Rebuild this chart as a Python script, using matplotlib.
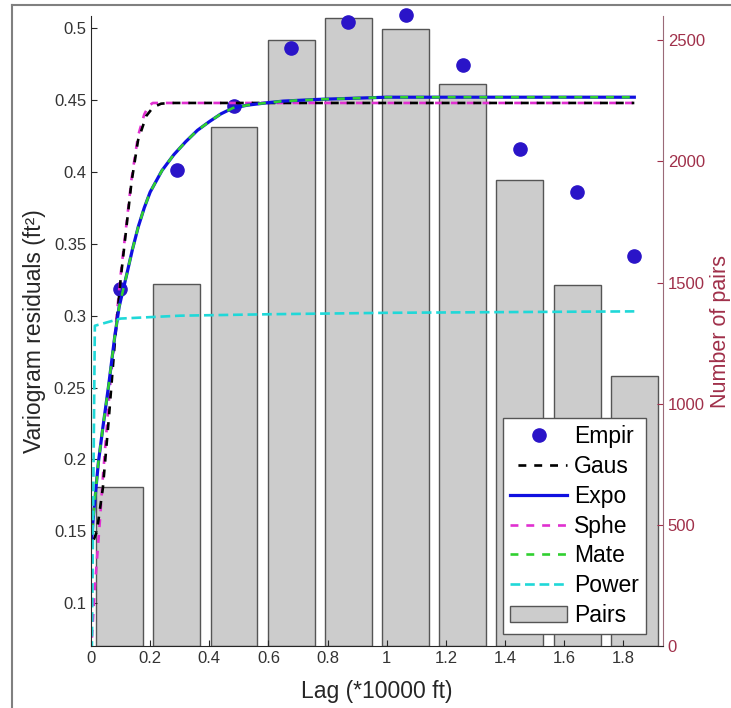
import matplotlib
matplotlib.use("Agg")
import matplotlib.pyplot as plt
from matplotlib.lines import Line2D
from matplotlib.ticker import FormatStrFormatter

plt.rcParams['font.family'] = ['Liberation Sans', 'DejaVu Sans']

# empirical variogram and pair counts per lag bin
lags = [0.0967, 0.290, 0.4835, 0.677, 0.870, 1.064, 1.257, 1.450, 1.644, 1.837]
empir = [0.3188, 0.4016, 0.4456, 0.4864, 0.5042, 0.5089, 0.4741, 0.4163, 0.3862, 0.3415]
pairs = [656, 1494, 2141, 2502, 2590, 2548, 2318, 1924, 1489, 1113]

# fitted models
gaus_x = [0, 0.02, 0.04, 0.06, 0.08, 0.10, 0.12, 0.137, 0.159, 0.187, 0.21, 0.237, 0.27, 1.837]
gaus_y = [0.139, 0.15, 0.18, 0.228, 0.28, 0.325, 0.362, 0.393, 0.422, 0.439, 0.445, 0.4475, 0.448, 0.448]

expo_x = [0, 0.01, 0.025, 0.04, 0.06, 0.08, 0.095, 0.12, 0.14, 0.16, 0.18, 0.2, 0.24, 0.28,
          0.32, 0.36, 0.40, 0.44, 0.48, 0.53, 0.59, 0.65, 0.77, 1.0, 1.837]
expo_y = [0.139, 0.165, 0.198, 0.222, 0.252, 0.285, 0.306, 0.328, 0.346, 0.362, 0.375, 0.386, 0.401, 0.412,
          0.421, 0.429, 0.435, 0.4405, 0.4445, 0.4465, 0.448, 0.4493, 0.4505, 0.452, 0.452]

sphe_x = [0, 0.013, 0.03, 0.041, 0.064, 0.08, 0.10, 0.12, 0.137, 0.159, 0.18, 0.195, 0.209, 0.22, 1.837]
sphe_y = [0.065, 0.111, 0.157, 0.19, 0.25, 0.285, 0.328, 0.364, 0.395, 0.425, 0.440, 0.446, 0.448, 0.448, 0.448]

mate_x = [0, 0.01, 0.025, 0.04, 0.06, 0.08, 0.095, 0.12, 0.14, 0.16, 0.18, 0.2, 0.24, 0.28,
          0.32, 0.36, 0.40, 0.44, 0.48, 0.53, 0.59, 0.65, 0.77, 1.0, 1.837]
mate_y = [0.139, 0.165, 0.198, 0.222, 0.252, 0.285, 0.306, 0.328, 0.346, 0.362, 0.375, 0.386, 0.401, 0.412,
          0.421, 0.429, 0.435, 0.4405, 0.4445, 0.4465, 0.448, 0.4493, 0.4505, 0.452, 0.452]

power_x = [0, 0.013, 0.1, 0.3, 0.6, 1.0, 1.4, 1.837]
power_y = [0.0, 0.293, 0.298, 0.300, 0.301, 0.302, 0.3025, 0.303]

xticks = [0, 0.2, 0.4, 0.6, 0.8, 1, 1.2, 1.4, 1.6, 1.8]
yticks = [0.1, 0.15, 0.2, 0.25, 0.3, 0.35, 0.4, 0.45, 0.5]
pair_ticks = [0, 500, 1000, 1500, 2000, 2500]

dark = '#262626'
red = '#a0304a'

fig = plt.figure(figsize=(7.31, 7.08), dpi=100)
ax = fig.add_axes([91/731, 1 - 646/708, 572/731, 630/708])
ax2 = ax.twinx()
ax.set_zorder(ax2.get_zorder() + 1)
ax.patch.set_visible(False)

# pairs as bars on the right axis (behind the curves)
bars = ax2.bar(lags, pairs, width=0.158, color='#cccccc', edgecolor='#555555',
               linewidth=1.0, label='Pairs')

pts, = ax.plot(lags, empir, 'o', color='#2a14c8', markersize=9.5, label='Empir', clip_on=False)
lw = 1.9
sp, = ax.plot(sphe_x, sphe_y, color='#e030d0', lw=lw, linestyle=(0, (3, 3)), label='Sphe')
ga, = ax.plot(gaus_x, gaus_y, color='black', lw=lw, linestyle=(3, (3, 3)), label='Gaus')
ex, = ax.plot(expo_x, expo_y, color='#1010e0', lw=2.3, label='Expo')
ma, = ax.plot(mate_x, mate_y, color='#30d030', lw=lw, linestyle=(0, (3, 3)), label='Mate')
pw, = ax.plot(power_x, power_y, color='#20d8d8', lw=lw, linestyle=(0, (3.7, 1.8)), label='Power')

ax.set_xlim(0, 1.934)
ax.set_ylim(0.0702, 0.5085)
ax2.set_ylim(0, 2600)

ax.set_xticks(xticks)
ax.set_yticks(yticks)
ax2.set_yticks(pair_ticks)
ax.xaxis.set_major_formatter(FormatStrFormatter('%g'))
ax.yaxis.set_major_formatter(FormatStrFormatter('%g'))

ax.tick_params(direction='in', length=4, labelsize=12, colors=dark, labelcolor='#333333')
ax.tick_params(axis='y', right=False)
ax2.tick_params(direction='in', length=4, labelsize=12, colors=red, labelcolor=red)

for s in ['top', 'right']:
    ax.spines[s].set_visible(False)
for s in ['top', 'left', 'bottom']:
    ax2.spines[s].set_visible(False)
ax.spines['left'].set_color(dark)
ax.spines['bottom'].set_color(dark)
ax2.spines['right'].set_color('#9a6a78')

ax.set_xlabel('Lag (*10000 ft)', fontsize=16.5, color=dark, labelpad=10)
ax.set_ylabel('Variogram residuals (ft²)', fontsize=16.5, color=dark)
ax.yaxis.set_label_coords(-0.079, 0.5)
ax2.set_ylabel('Number of pairs', fontsize=15.5, color=red)
ax2.yaxis.set_label_coords(1.082, 0.5)

ax.legend([pts, ga, ex, sp, ma, pw, bars], ['Empir', 'Gaus', 'Expo', 'Sphe', 'Mate', 'Power', 'Pairs'],
          loc='lower right', bbox_to_anchor=(0.970, 0.019), fontsize=16.5,
          frameon=True, fancybox=False, edgecolor='#555555', framealpha=1,
          handlelength=2.5, handletextpad=0.3, labelspacing=0.30, borderpad=0.3,
          borderaxespad=0)

# figure window frame
fig.add_artist(Line2D([12/731, 12/731], [0, 1 - 5/708], color='#808080', lw=1.5))
fig.add_artist(Line2D([12/731, 1], [1 - 5/708, 1 - 5/708], color='#808080', lw=1.5))

fig.savefig('out.png', dpi=100)
